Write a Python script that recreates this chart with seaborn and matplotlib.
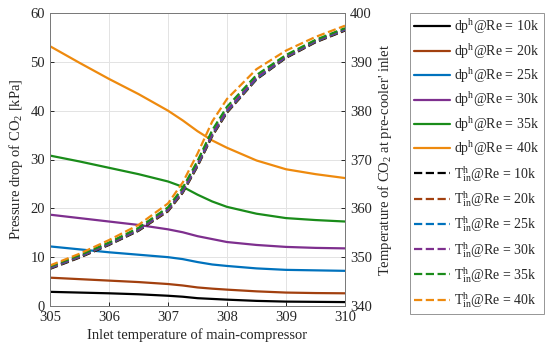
import numpy as np
import pandas as pd
import matplotlib
matplotlib.use("Agg")
import matplotlib.pyplot as plt
import seaborn as sns

# inlet temperature of main compressor [K]
t_inlet = [305, 305.5, 306, 306.5, 307, 307.25, 307.5, 307.75, 308, 308.5, 309, 309.5, 310]
re_labels = ["10k", "20k", "25k", "30k", "35k", "40k"]

# pressure drop of CO2 [kPa]
dp_10k = [2.9, 2.75, 2.6, 2.4, 2.1, 1.9, 1.6, 1.45, 1.3, 1.05, 0.9, 0.85, 0.8]
dp_20k = [5.8, 5.5, 5.2, 4.9, 4.5, 4.2, 3.8, 3.55, 3.35, 3.0, 2.75, 2.65, 2.6]
dp_25k = [12.2, 11.6, 11.0, 10.5, 10.0, 9.6, 9.0, 8.5, 8.2, 7.7, 7.4, 7.3, 7.2]
dp_30k = [18.7, 18.0, 17.3, 16.6, 15.7, 15.1, 14.3, 13.7, 13.1, 12.5, 12.1, 11.9, 11.8]
dp_35k = [30.8, 29.6, 28.3, 27.0, 25.5, 24.4, 22.8, 21.4, 20.3, 18.9, 18.0, 17.6, 17.3]
dp_40k = [53.2, 49.8, 46.5, 43.4, 40.0, 38.0, 35.8, 33.9, 32.4, 29.8, 28.0, 27.0, 26.2]

# temperature of CO2 at pre-cooler inlet [K]
T_10k = [347.6, 349.9, 352.5, 355.4, 359.4, 363.2, 368.6, 374.8, 379.6, 386.4, 390.8, 394.0, 396.4]
T_20k = [347.7, 350.0, 352.6, 355.5, 359.5, 363.3, 368.7, 374.9, 379.7, 386.5, 390.9, 394.1, 396.5]
T_25k = [347.8, 350.1, 352.7, 355.6, 359.7, 363.5, 368.9, 375.1, 379.9, 386.6, 391.0, 394.2, 396.6]
T_30k = [347.9, 350.2, 352.8, 355.7, 359.8, 363.7, 369.1, 375.3, 380.1, 386.8, 391.1, 394.3, 396.7]
T_35k = [348.1, 350.4, 353.0, 356.0, 360.2, 364.2, 369.7, 376.0, 380.8, 387.3, 391.4, 394.5, 396.9]
T_40k = [348.3, 350.7, 353.5, 356.6, 361.0, 365.3, 371.2, 377.8, 382.4, 388.5, 392.3, 395.1, 397.4]

dp_all = [dp_10k, dp_20k, dp_25k, dp_30k, dp_35k, dp_40k]
T_all = [T_10k, T_20k, T_25k, T_30k, T_35k, T_40k]

colors = ["#000000", "#A2400F", "#0072BD", "#7E2F8E", "#1A8C1A", "#EE8A0E"]

sns.set_style("ticks")
plt.rcParams["font.family"] = ["Liberation Serif", "DejaVu Serif"]
plt.rcParams["mathtext.fontset"] = "custom"
plt.rcParams["mathtext.rm"] = "Liberation Serif"
plt.rcParams["mathtext.it"] = "Liberation Serif:italic"
plt.rcParams["font.size"] = 10

fig = plt.figure(figsize=(5.5, 3.51), dpi=100)
ax = fig.add_axes([50 / 550, 45 / 351, 295 / 550, 293 / 351])
ax2 = ax.twinx()

for lab, c, dp in zip(re_labels, colors, dp_all):
    sns.lineplot(x=t_inlet, y=dp, color=c, lw=1.6, ax=ax,
                 label=r"dp$^{\mathrm{h}}$@Re = " + lab)
for lab, c, T in zip(re_labels, colors, T_all):
    sns.lineplot(x=t_inlet, y=T, color=c, lw=1.6, ls="--", ax=ax2,
                 label=r"T$^{\mathrm{h}}_{\mathrm{in}}$@Re = " + lab)

h1, l1 = ax.get_legend_handles_labels()
h2, l2 = ax2.get_legend_handles_labels()
ax.get_legend().remove()
ax2.get_legend().remove()

ax.set_xlim(305, 310)
ax.set_ylim(0, 60)
ax2.set_ylim(340, 400)
ax.set_xticks([305, 306, 307, 308, 309, 310])
ax.set_yticks([0, 10, 20, 30, 40, 50, 60])
ax2.set_yticks([340, 350, 360, 370, 380, 390, 400])
ax.grid(True, color="#e3e3e3", lw=0.7)
ax.set_axisbelow(True)

for a in (ax, ax2):
    a.tick_params(direction="in", length=3, width=0.7, colors="#262626", labelsize=10.5)
    for s in a.spines.values():
        s.set_color("#7a7a7a")
        s.set_linewidth(0.7)
ax.tick_params(top=False, right=False)

ax.set_xlabel("Inlet temperature of main-compressor", fontsize=10.5, labelpad=3)
ax.set_ylabel(r"Pressure drop of CO$_2$ [kPa]", fontsize=10.5, labelpad=4)
ax2.set_ylabel(r"Temperature of CO$_2$ at pre-cooler' inlet", fontsize=10.5, labelpad=3)

leg = fig.legend(h1 + h2, l1 + l2, loc="upper left",
                 bbox_to_anchor=(410 / 550, 1 - 13 / 351),
                 frameon=True, fancybox=False, fontsize=10,
                 handlelength=2.6, handletextpad=0.3, labelspacing=0.4,
                 borderpad=0.3, borderaxespad=0)
leg.get_frame().set_edgecolor("#7a7a7a")
leg.get_frame().set_linewidth(0.7)

fig.savefig("out.png", dpi=100)
